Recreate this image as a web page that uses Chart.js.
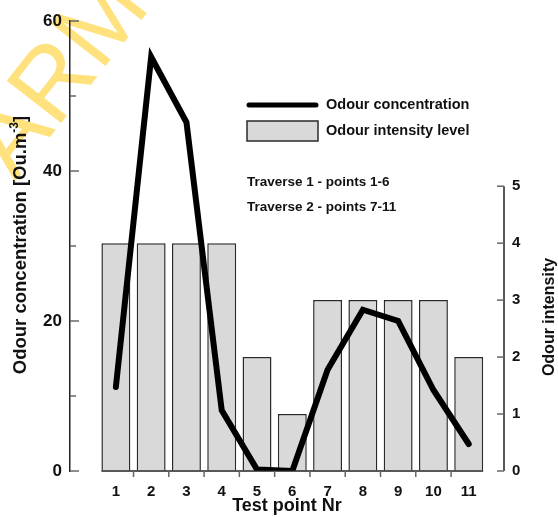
<!DOCTYPE html>
<html>
<head>
<meta charset="utf-8">
<script src="https://cdn.jsdelivr.net/npm/chart.js@4.4.1/dist/chart.umd.min.js"></script>
<style>
  html, body { margin: 0; padding: 0; background: #fff; }
  #wrap { width: 558px; height: 517px; }
</style>
</head>
<body>
<div id="wrap"><canvas id="chart"></canvas></div>
<script>
const testPoints = [1, 2, 3, 4, 5, 6, 7, 8, 9, 10, 11]
const odourConcentration = [11.2, 55.2, 46.5, 8.1, 0.2, 0, 13.5, 21.5, 20, 10.8, 3.6]
const odourIntensity = [4, 4, 4, 4, 2, 1, 3, 3, 3, 3, 2]
const concentrationTicks = [0, 10, 20, 30, 40, 50, 60]
const concentrationLabels = [0, 20, 40, 60]
const intensityTicks = [0, 1, 2, 3, 4, 5]
const notes = ['Traverse 1 - points 1-6', 'Traverse 2 - points 7-11']

const FONT = "'Liberation Sans', Arial, sans-serif"
const INK = '#111'
const TICK_GREY = '#666'

function strokeLine(ctx, x1, y1, x2, y2) {
  ctx.beginPath()
  ctx.moveTo(x1, y1)
  ctx.lineTo(x2, y2)
  ctx.stroke()
}

// text made of pieces (for the superscript in the axis title), centred on 0,0
function drawPieces(ctx, pieces) {
  let total = 0
  pieces.forEach(p => {
    ctx.font = `bold ${p.size}px ${FONT}`
    p.w = ctx.measureText(p.text).width
    total += p.w
  })
  let x = -total / 2
  pieces.forEach(p => {
    ctx.font = `bold ${p.size}px ${FONT}`
    ctx.fillText(p.text, x, -(p.rise || 0))
    x += p.w
  })
}

const decorations = {
  id: 'decorations',
  beforeDraw(chart) {
    // yellow watermark in the corner
    const ctx = chart.ctx
    ctx.save()
    ctx.translate(15, 182)
    ctx.rotate(-52 * Math.PI / 180)
    ctx.font = `100px ${FONT}`
    ctx.fillStyle = 'rgba(255, 206, 40, 0.6)'
    ctx.textBaseline = 'alphabetic'
    ctx.fillText('ARMO', 0, 0)
    ctx.restore()
  },
  afterDatasetsDraw(chart) {
    const { ctx, chartArea } = chart
    const { x, y, y1 } = chart.scales
    ctx.save()
    ctx.lineCap = 'butt'

    // left axis: ticks point inward
    ctx.strokeStyle = TICK_GREY
    ctx.lineWidth = 1.5
    y.ticks.forEach(t => {
      const py = y.getPixelForValue(t.value)
      const len = concentrationLabels.includes(t.value) ? 9 : 6
      strokeLine(ctx, chartArea.left, py, chartArea.left + len, py)
    })

    // right axis only runs from 0 to 5
    const top = y1.getPixelForValue(intensityTicks[intensityTicks.length - 1])
    const bottom = y1.getPixelForValue(intensityTicks[0])
    ctx.strokeStyle = '#222'
    strokeLine(ctx, chartArea.right, top, chartArea.right, bottom)
    ctx.strokeStyle = TICK_GREY
    y1.ticks.forEach(t => {
      const py = y1.getPixelForValue(t.value)
      strokeLine(ctx, chartArea.right - 7, py, chartArea.right, py)
    })

    // x axis: from the first bar to the last, ticks between the bars
    const bars = chart.getDatasetMeta(1).data
    const first = bars[0], last = bars[bars.length - 1]
    ctx.strokeStyle = '#222'
    strokeLine(ctx, first.x - first.width / 2, chartArea.bottom, last.x + last.width / 2, chartArea.bottom)
    ctx.strokeStyle = TICK_GREY
    testPoints.slice(0, -1).forEach(v => {
      const px = x.getPixelForValue(v + 0.5)
      strokeLine(ctx, px, chartArea.bottom, px, chartArea.bottom + 6)
    })

    ctx.fillStyle = INK
    ctx.textBaseline = 'middle'
    ctx.textAlign = 'left'

    // axis titles
    ctx.save()
    ctx.translate(21, 245)
    ctx.rotate(-Math.PI / 2)
    drawPieces(ctx, [
      { text: 'Odour concentration [Ou.m', size: 18.5 },
      { text: '-3', size: 12, rise: 6 },
      { text: ']', size: 18.5 }
    ])
    ctx.restore()

    ctx.save()
    ctx.translate(550, 317)
    ctx.rotate(-Math.PI / 2)
    drawPieces(ctx, [{ text: 'Odour intensity', size: 16 }])
    ctx.restore()

    // legend
    const lineSet = chart.data.datasets[0]
    const barSet = chart.data.datasets[1]
    ctx.strokeStyle = lineSet.borderColor
    ctx.lineWidth = 5
    ctx.lineCap = 'round'
    strokeLine(ctx, 249, 105, 316, 105)
    ctx.fillStyle = barSet.backgroundColor
    ctx.fillRect(247, 121, 71, 20)
    ctx.strokeStyle = barSet.borderColor
    ctx.lineWidth = 1.5
    ctx.strokeRect(247, 121, 71, 20)

    ctx.fillStyle = INK
    ctx.font = `bold 14.5px ${FONT}`
    ctx.fillText(lineSet.label, 326, 105)
    ctx.fillText(barSet.label, 326, 131)

    ctx.font = `bold 13.5px ${FONT}`
    notes.forEach((n, i) => ctx.fillText(n, 247, 182 + i * 25))

    ctx.restore()
  }
}

const config = {
  data: {
    datasets: [
      {
        type: 'line',
        label: 'Odour concentration',
        data: testPoints.map((p, i) => ({ x: p, y: odourConcentration[i] })),
        yAxisID: 'y',
        borderColor: '#000',
        borderWidth: 6,
        borderJoinStyle: 'miter',
        borderCapStyle: 'round',
        pointRadius: 0,
        tension: 0
      },
      {
        type: 'bar',
        label: 'Odour intensity level',
        data: testPoints.map((p, i) => ({ x: p, y: odourIntensity[i] })),
        yAxisID: 'y1',
        backgroundColor: '#d9d9d9',
        borderColor: '#2a2a2a',
        borderWidth: 1.5,
        barPercentage: 0.82,
        categoryPercentage: 1
      }
    ]
  },
  options: {
    responsive: true,
    maintainAspectRatio: false,
    animation: false,
    devicePixelRatio: 1,
    layout: { padding: { top: 21, left: 0, right: 0, bottom: 0 } },
    plugins: {
      legend: { display: false },
      tooltip: { enabled: false }
    },
    scales: {
      x: {
        type: 'linear',
        offset: false,
        min: -0.3,
        max: 12,
        afterBuildTicks: s => { s.ticks = testPoints.map(v => ({ value: v })) },
        afterFit: s => { s.height = 46 },
        grid: { display: false, offset: false },
        border: { display: false },
        ticks: {
          autoSkip: false,
          maxRotation: 0,
          padding: 4,
          color: INK,
          font: { family: FONT, size: 15, weight: 'bold' }
        },
        title: {
          display: true,
          text: 'Test point Nr',
          color: INK,
          padding: { top: 0, bottom: 0 },
          font: { family: FONT, size: 18, weight: 'bold' }
        }
      },
      y: {
        position: 'left',
        min: 0,
        max: 60,
        afterBuildTicks: s => { s.ticks = concentrationTicks.map(v => ({ value: v })) },
        afterFit: s => { s.width = 70 },
        grid: { drawOnChartArea: false, drawTicks: false },
        border: { display: true, color: '#222', width: 1.5 },
        ticks: {
          padding: 8,
          color: INK,
          callback: v => concentrationLabels.includes(v) ? v : '',
          font: { family: FONT, size: 17, weight: 'bold' }
        }
      },
      y1: {
        position: 'right',
        min: 0,
        max: 7.9,
        afterBuildTicks: s => { s.ticks = intensityTicks.map(v => ({ value: v })) },
        afterFit: s => { s.width = 54 },
        grid: { drawOnChartArea: false, drawTicks: false },
        border: { display: false },
        ticks: {
          padding: 8,
          color: INK,
          font: { family: FONT, size: 15, weight: 'bold' }
        }
      }
    }
  },
  plugins: [decorations]
}

new Chart(document.getElementById('chart'), config)
</script>
</body>
</html>
